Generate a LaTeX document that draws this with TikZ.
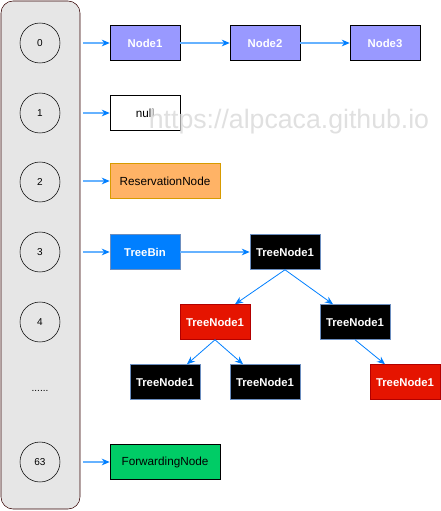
\documentclass[tikz,border=0pt]{standalone}
\usepackage{fontspec}
\setmainfont{Liberation Sans}
\usepackage{xcolor}
\usepackage{tikz}
\usetikzlibrary{arrows.meta,calc}

\definecolor{arrblue}{RGB}{0,127,255}
\definecolor{lineblue}{RGB}{102,178,255}
\definecolor{nodepurple}{RGB}{153,153,255}
\definecolor{resorange}{RGB}{255,179,102}
\definecolor{resborder}{RGB}{215,155,0}
\definecolor{treeborder}{RGB}{108,142,191}
\definecolor{redfill}{RGB}{229,20,0}
\definecolor{redborder}{RGB}{178,0,0}
\definecolor{fwdgreen}{RGB}{0,204,102}
\definecolor{tablegray}{RGB}{230,230,230}
\definecolor{tableborder}{RGB}{51,0,0}

\tikzset{
  slot/.style={draw, circle, minimum size=30pt, inner sep=0pt, font=\fontsize{7.5}{9}\selectfont},
  box/.style={draw, minimum width=52.5pt, minimum height=26.25pt, inner sep=0pt, font=\fontsize{8.8}{10}\selectfont},
  wbox/.style={box, minimum width=82.5pt},
  boldtext/.style={text=white, font=\fontsize{8.5}{10}\selectfont\bfseries},
  listnode/.style={box, fill=nodepurple, boldtext},
  blacknode/.style={box, fill=black, draw=treeborder, boldtext},
  rednode/.style={box, fill=redfill, draw=redborder, boldtext},
  link/.style={draw=lineblue, line width=0.9pt, -{Stealth[length=6pt,width=5pt,color=arrblue]}},
  treelink/.style={draw=arrblue, line width=0.6pt, -{Stealth[length=6pt,width=5pt]}},
}

\begin{document}
\begin{tikzpicture}[x=0.75pt,y=-0.75pt]
\useasboundingbox (0,0) rectangle (441,511);
% table
\draw[fill=tablegray, draw=tableborder, rounded corners=9pt] (1,1) rectangle (80,509);
\foreach \i/\yy in {0/43,1/113,2/182,3/252,4/322,63/462}
  \node[slot] (s\i) at (40,\yy) {\i};
\node[font=\fontsize{7.5}{9}\selectfont] (dots) at (40,391) {......};
% bins
\node[listnode] (n1) at (145,43) {Node1};
\node[listnode] (n2) at (265,43) {Node2};
\node[listnode] (n3) at (385,43) {Node3};
\node[box, fill=white] (nul) at (145,113) {null};
\node[wbox, fill=resorange, draw=resborder] (res) at (165,181) {ReservationNode};
\node[box, fill=arrblue, draw=treeborder, boldtext] (bin) at (145,252) {TreeBin};
\node[blacknode] (t1) at (285,252) {TreeNode1};
\node[rednode] (t2) at (215,322) {TreeNode1};
\node[blacknode] (t3) at (355,322) {TreeNode1};
\node[blacknode] (t4) at (165,382) {TreeNode1};
\node[blacknode] (t5) at (265,382) {TreeNode1};
\node[rednode] (t6) at (405,382) {TreeNode1};
\node[wbox, fill=fwdgreen] (fwd) at (165,462) {ForwardingNode};
% watermark
\node[text=black!12, font=\fontsize{20}{22}\selectfont] (wm) at (289,122) {https://alpcaca.github.io};
% links
\draw[link] (83,43) -- (n1);
\draw[link] (n1) -- (n2);
\draw[link] (n2) -- (n3);
\draw[link] (83,113) -- (nul);
\draw[link] (83,181) -- (res);
\draw[link] (83,252) -- (bin);
\draw[link] (bin) -- (t1);
\draw[link] (83,462) -- (fwd);
\draw[treelink] (t1.south) -- ($(t2.north)+(20,0)$);
\draw[treelink] (t1.south) -- ($(t3.north)+(-22,0)$);
\draw[treelink] (t2.south) -- ($(t4.north)+(22,0)$);
\draw[treelink] (t2.south) -- ($(t5.north)+(-22,0)$);
\draw[treelink] (t3.south) -- ($(t6.north)+(-20,0)$);
\end{tikzpicture}
\end{document}
